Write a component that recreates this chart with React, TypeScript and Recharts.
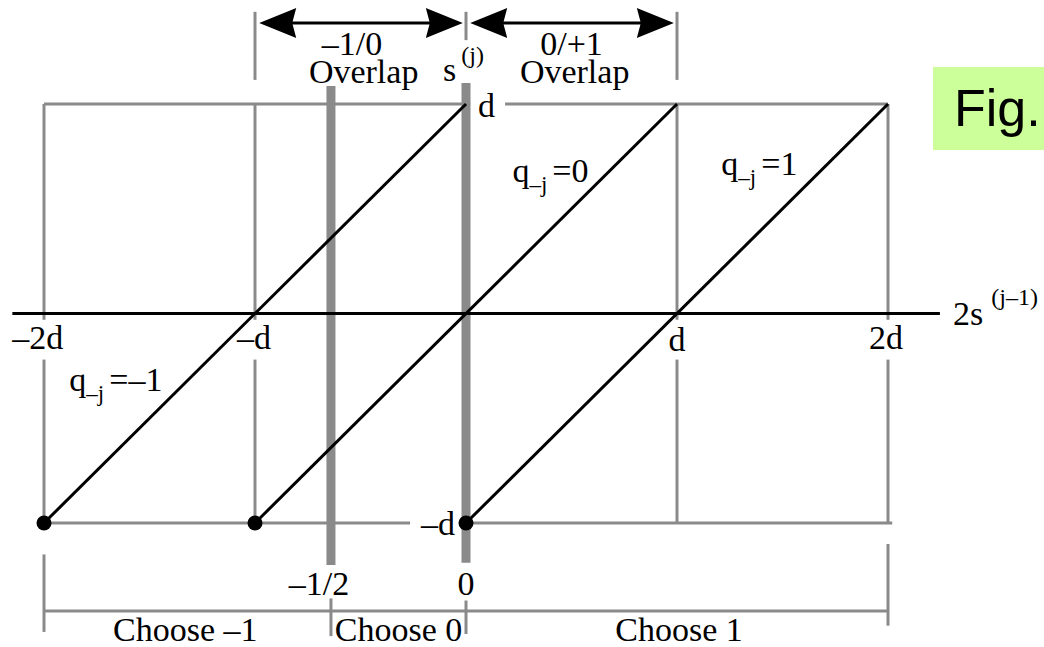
import {
  ComposedChart,
  Line,
  Scatter,
  XAxis,
  YAxis,
  ReferenceLine,
  ReferenceDot,
} from 'recharts';

// Radix-2 SRT selection diagram: s(j) against 2s(j-1), everything in units of d.
const qDigits = ['–1', '0', '1'];
const qLineStart = [-2, -1, 0]; // 2s(j-1) where each line leaves s(j) = -d
const qLineEnd = [0, 1, 2]; // 2s(j-1) where it reaches s(j) = +d
const sLow = -1;
const sHigh = 1;
const qLabelAt = [
  [-1.88, -0.37],
  [0.22, 0.63],
  [1.21, 0.66],
];

const xTicks = [-2, -1, 1, 2];
const xTickLabels = ['–2d', '–d', 'd', '2d'];

const selectCuts = [-0.64, 0];
const selectCutLabels = ['–1/2', '0'];
const chooseLabels = ['Choose –1', 'Choose 0', 'Choose 1'];
const chooseCenters = [-1.33, -0.32, 1.01];

const overlapFrom = [-1, 0];
const overlapTo = [0, 1];
const overlapLabels = ['–1/0', '0/+1'];

const SERIF = '"Liberation Serif", "Times New Roman", serif';
const GRAY = '#8a8a8a';
const FS = 34;

const lineData = qDigits.map((_, i) => [
  { x: qLineStart[i], y: sLow },
  { x: qLineEnd[i], y: sHigh },
]);
const dotData = qLineStart.map((x) => ({ x, y: sLow }));

const txt = (
  anchor: 'start' | 'middle' | 'end',
  body: any,
  size = FS,
) => (p: any) => (
  <text
    x={p.cx}
    y={p.cy}
    textAnchor={anchor}
    fontSize={size}
    fontFamily={SERIF}
    fill="#000"
  >
    {body}
  </text>
);

const arrowHead = (dir: 1 | -1) => (p: any) => {
  const { cx, cy } = p;
  const pts = `${cx},${cy} ${cx - dir * 37},${cy - 15} ${cx - dir * 33},${cy} ${cx - dir * 37},${cy + 15}`;
  return <polygon points={pts} fill="#000" />;
};

const seg = (x1: number, y1: number, x2: number, y2: number, w = 3, key?: string) => (
  <ReferenceLine
    key={key ?? `${x1}_${y1}_${x2}_${y2}`}
    segment={[
      { x: x1, y: y1 },
      { x: x2, y: y2 },
    ]}
    stroke={GRAY}
    strokeWidth={w}
    ifOverflow="visible"
  />
);

export default function App() {
  const arrowY = 1.387;
  return (
    <div style={{ position: 'absolute', left: 0, top: 0, width: 1044, height: 647, background: '#fff' }}>
      <ComposedChart
        width={1044}
        height={647}
        margin={{ top: 104, right: 156, bottom: 124, left: 44 }}
      >
        <XAxis dataKey="x" type="number" domain={[-2, 2]} hide />
        <YAxis dataKey="y" type="number" domain={[-1, 1]} hide />

        {/* gray frame of the selection region */}
        {seg(-2, 1, 0.02, 1)}
        {seg(0.185, 1, 2, 1)}
        {seg(-2, -1, -0.265, -1)}
        {seg(0, -1, 2.02, -1)}
        {xTicks.map((x) => seg(x, -0.22, x, -1, 3, `lo${x}`))}
        {xTicks.map((x) => seg(x, 1, x, -0.03, 3, `hi${x}`))}

        {/* selection thresholds */}
        {seg(selectCuts[0], 1.086, selectCuts[0], -1.2, 9)}
        {seg(selectCuts[1], 1.1, selectCuts[1], -1.19, 9)}
        {seg(selectCuts[0], -1.36, selectCuts[0], -1.54)}
        {seg(selectCuts[1], -1.37, selectCuts[1], -1.53)}

        {/* bottom "choose" bracket */}
        {seg(-2, -1.42, 2, -1.42)}
        {seg(-2, -1.15, -2, -1.52)}
        {seg(2, -1.1, 2, -1.49)}

        {/* top overlap brackets */}
        {seg(-1, 1.44, -1, 1.115)}
        {seg(0, 1.44, 0, 1.305)}
        {seg(1, 1.44, 1, 1.115)}

        {/* 2s(j-1) axis */}
        <ReferenceLine
          segment={[
            { x: -2.15, y: 0 },
            { x: 2.246, y: 0 },
          ]}
          stroke="#000"
          strokeWidth={3}
          ifOverflow="visible"
        />

        {/* overlap arrows */}
        {overlapFrom.map((x0, i) => (
          <ReferenceLine
            key={`arr${i}`}
            segment={[
              { x: x0 + 0.06, y: arrowY },
              { x: overlapTo[i] - 0.06, y: arrowY },
            ]}
            stroke="#000"
            strokeWidth={3}
            ifOverflow="visible"
          />
        ))}
        {overlapFrom.map((x0, i) => (
          <ReferenceDot key={`al${i}`} x={x0 + 0.02} y={arrowY} r={1} ifOverflow="visible" shape={arrowHead(-1)} />
        ))}
        {overlapTo.map((x1, i) => (
          <ReferenceDot key={`ar${i}`} x={x1 - 0.015} y={arrowY} r={1} ifOverflow="visible" shape={arrowHead(1)} />
        ))}

        {/* partial-remainder lines, one per quotient digit */}
        {lineData.map((d, i) => (
          <Line
            key={`q${i}`}
            data={d}
            dataKey="y"
            type="linear"
            stroke="#000"
            strokeWidth={3}
            dot={false}
            isAnimationActive={false}
          />
        ))}
        <Scatter
          data={dotData}
          dataKey="y"
          fill="#000"
          isAnimationActive={false}
          shape={(p: any) => <circle cx={p.cx} cy={p.cy} r={7.5} fill="#000" />}
        />

        {/* texts */}
        {overlapFrom.map((x0, i) => (
          <ReferenceDot
            key={`ol${i}`}
            x={(x0 + overlapTo[i]) / 2 - (i === 0 ? 0.04 : 0)}
            y={1.234}
            r={1}
            ifOverflow="visible"
            shape={txt('middle', overlapLabels[i])}
          />
        ))}
        {overlapFrom.map((x0, i) => (
          <ReferenceDot
            key={`ow${i}`}
            x={(x0 + overlapTo[i]) / 2 + 0.015}
            y={1.1}
            r={1}
            ifOverflow="visible"
            shape={txt('middle', 'Overlap')}
          />
        ))}
        <ReferenceDot
          x={-0.109}
          y={1.11}
          r={1}
          ifOverflow="visible"
          shape={txt('start', [
            's',
            <tspan key="sup" fontSize={24} dx={5} dy={-18}>(j)</tspan>,
          ])}
        />
        <ReferenceDot
          x={2.308}
          y={-0.055}
          r={1}
          ifOverflow="visible"
          shape={txt('start', [
            '2s',
            <tspan key="sup" fontSize={24} dx={8} dy={-20}>(j–1)</tspan>,
          ])}
        />
        {xTicks.map((x, i) => (
          <ReferenceDot
            key={`xt${i}`}
            x={i === 0 ? -2.03 : x - (i === 1 ? 0.005 : 0) - (i === 3 ? 0.01 : 0)}
            y={i === 2 ? -0.18 : -0.17}
            r={1}
            ifOverflow="visible"
            shape={txt('middle', xTickLabels[i])}
          />
        ))}
        <ReferenceDot x={0.057} y={0.94} r={1} ifOverflow="visible" shape={txt('start', 'd')} />
        <ReferenceDot x={-0.052} y={-1.058} r={1} ifOverflow="visible" shape={txt('end', '–d')} />
        {selectCuts.map((x, i) => (
          <ReferenceDot
            key={`cl${i}`}
            x={i === 0 ? -0.697 : x}
            y={-1.344}
            r={1}
            ifOverflow="visible"
            shape={txt('middle', selectCutLabels[i])}
          />
        ))}
        {chooseLabels.map((t, i) => (
          <ReferenceDot
            key={`ch${i}`}
            x={chooseCenters[i]}
            y={-1.562}
            r={1}
            ifOverflow="visible"
            shape={txt('middle', t)}
          />
        ))}
        {qDigits.map((q, i) => (
          <ReferenceDot
            key={`ql${i}`}
            x={qLabelAt[i][0]}
            y={qLabelAt[i][1]}
            r={1}
            ifOverflow="visible"
            shape={txt('start', [
              'q',
              <tspan key="sub" fontSize={23} dy={10}>–j</tspan>,
              <tspan key="eq" fontSize={FS} dx={5} dy={-10}>={q}</tspan>,
            ])}
          />
        ))}
      </ComposedChart>
      <div
        style={{
          position: 'absolute',
          left: 933,
          top: 67,
          width: 111,
          height: 83,
          background: '#ccff99',
          fontFamily: '"Liberation Sans", Arial, sans-serif',
          fontSize: 52,
          lineHeight: '83px',
          paddingLeft: 21,
          boxSizing: 'border-box',
          overflow: 'hidden',
          whiteSpace: 'nowrap',
        }}
      >
        Fig.
      </div>
    </div>
  );
}
